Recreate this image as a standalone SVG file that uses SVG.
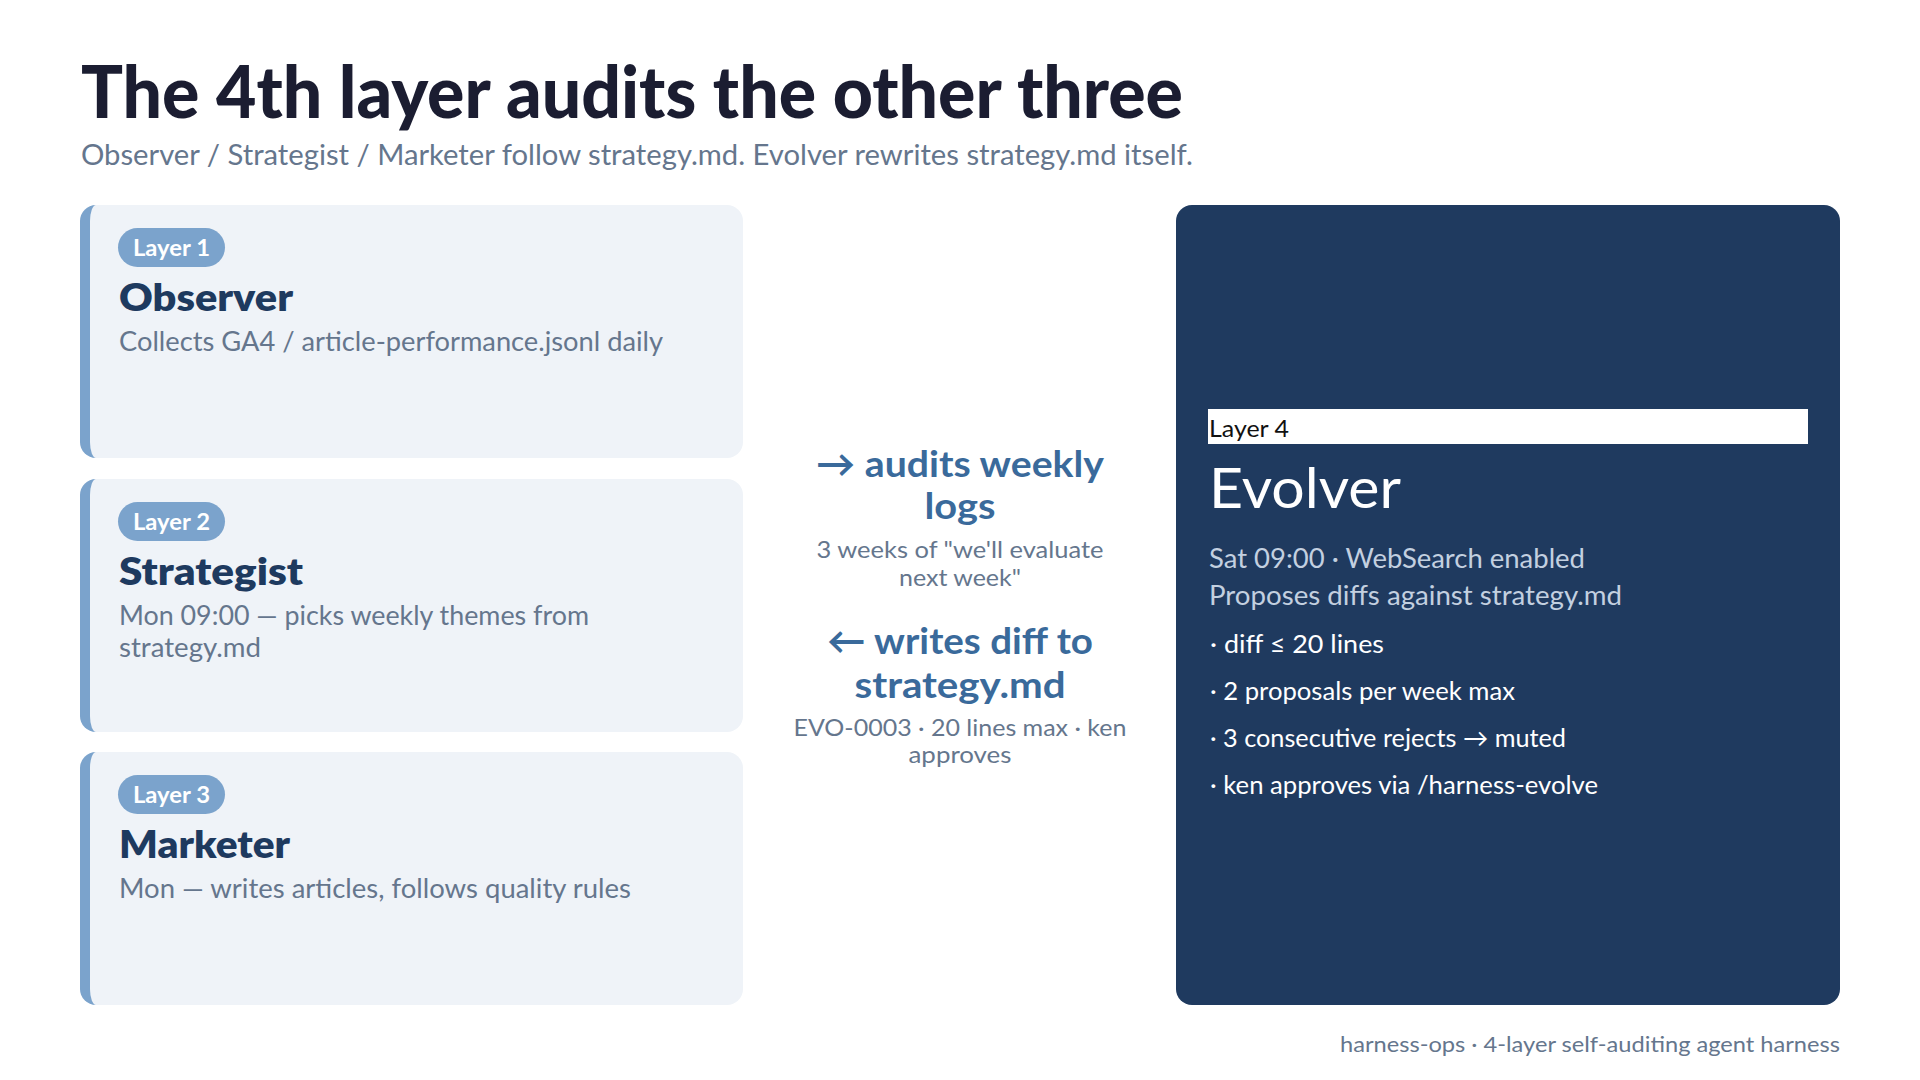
<svg xmlns="http://www.w3.org/2000/svg" width="1920" height="1080" viewBox="0 0 1920 1080">
<defs>
<style>
text { font-family: Lato, "Noto Sans", "Liberation Sans", sans-serif; }
.title { font-size: 72px; font-weight: 900; fill: #1b1d31; }
.sub { font-size: 28px; fill: #65768d; }
.card { fill: #eff3f8; }
.accent { fill: #7ba3cc; }
.pill { fill: #7ba3cc; }
.pilltxt { font-size: 22px; font-weight: 700; fill: #ffffff; text-anchor: middle; }
.name { font-size: 37px; font-weight: 800; fill: #1e3a5f; }
.desc { font-size: 26px; fill: #65768d; }
.dark { fill: #1f3a5f; }
.l4bar { fill: #ffffff; }
.l4txt { font-size: 23px; fill: #111111; }
.evname { font-size: 57px; fill: #ffffff; }
.evsub { font-size: 26px; fill: #c3d0e0; }
.evbul { font-size: 25px; fill: #ffffff; }
.mid { font-size: 37px; font-weight: 700; fill: #3a6a9b; text-anchor: middle; }
.midsub { font-size: 24px; fill: #65768d; text-anchor: middle; }
.foot { font-size: 22px; fill: #65768d; text-anchor: end; }
</style>
</defs>
<rect width="1920" height="1080" fill="#ffffff"/>

<text class="title" x="81" y="118" textLength="1102" lengthAdjust="spacingAndGlyphs">The 4th layer audits the other three</text>
<text class="sub" x="81" y="165" textLength="1112" lengthAdjust="spacingAndGlyphs">Observer / Strategist / Marketer follow strategy.md. Evolver rewrites strategy.md itself.</text>

<g id="layer1">
<rect class="accent" x="80" y="205" width="40" height="253" rx="16"/>
<path class="card" d="M96 205 H727 A16 16 0 0 1 743 221 V442 A16 16 0 0 1 727 458 H96 A6 16 0 0 1 90 442 V221 A6 16 0 0 1 96 205 Z"/>
<rect class="pill" x="118" y="228" width="107" height="39" rx="19.5"/>
<text class="pilltxt" x="171.5" y="256" textLength="77" lengthAdjust="spacingAndGlyphs">Layer 1</text>
<text class="name" x="119" y="311" textLength="174" lengthAdjust="spacingAndGlyphs">Observer</text>
<text class="desc" x="119" y="351" textLength="544" lengthAdjust="spacingAndGlyphs">Collects GA4 / article-performance.jsonl daily</text>
</g>

<g id="layer2">
<rect class="accent" x="80" y="479" width="40" height="253" rx="16"/>
<path class="card" d="M96 479 H727 A16 16 0 0 1 743 495 V716 A16 16 0 0 1 727 732 H96 A6 16 0 0 1 90 716 V495 A6 16 0 0 1 96 479 Z"/>
<rect class="pill" x="118" y="502" width="107" height="39" rx="19.5"/>
<text class="pilltxt" x="171.5" y="530" textLength="77" lengthAdjust="spacingAndGlyphs">Layer 2</text>
<text class="name" x="119" y="585" textLength="184" lengthAdjust="spacingAndGlyphs">Strategist</text>
<text class="desc" x="119" y="625" textLength="470" lengthAdjust="spacingAndGlyphs">Mon 09:00 — picks weekly themes from</text>
<text class="desc" x="119" y="657" textLength="142" lengthAdjust="spacingAndGlyphs">strategy.md</text>
</g>

<g id="layer3">
<rect class="accent" x="80" y="752" width="40" height="253" rx="16"/>
<path class="card" d="M96 752 H727 A16 16 0 0 1 743 768 V989 A16 16 0 0 1 727 1005 H96 A6 16 0 0 1 90 989 V768 A6 16 0 0 1 96 752 Z"/>
<rect class="pill" x="118" y="775" width="107" height="39" rx="19.5"/>
<text class="pilltxt" x="171.5" y="803" textLength="77" lengthAdjust="spacingAndGlyphs">Layer 3</text>
<text class="name" x="119" y="858" textLength="171" lengthAdjust="spacingAndGlyphs">Marketer</text>
<text class="desc" x="119" y="898" textLength="512" lengthAdjust="spacingAndGlyphs">Mon — writes articles, follows quality rules</text>
</g>

<g id="connectors">
<text class="mid" x="960" y="477" textLength="288" lengthAdjust="spacingAndGlyphs">→ audits weekly</text>
<text class="mid" x="960" y="519" textLength="71" lengthAdjust="spacingAndGlyphs">logs</text>
<text class="midsub" x="960" y="558" textLength="287" lengthAdjust="spacingAndGlyphs">3 weeks of "we'll evaluate</text>
<text class="midsub" x="960" y="586" textLength="122" lengthAdjust="spacingAndGlyphs">next week"</text>
<text class="mid" x="960" y="654" textLength="266" lengthAdjust="spacingAndGlyphs">← writes diff to</text>
<text class="mid" x="960" y="698" textLength="211" lengthAdjust="spacingAndGlyphs">strategy.md</text>
<text class="midsub" x="960" y="736" textLength="333" lengthAdjust="spacingAndGlyphs">EVO-0003 · 20 lines max · ken</text>
<text class="midsub" x="960" y="763" textLength="103" lengthAdjust="spacingAndGlyphs">approves</text>
</g>

<g id="layer4">
<rect class="dark" x="1176" y="205" width="664" height="800" rx="16"/>
<rect class="l4bar" x="1208" y="409" width="600" height="35"/>
<text class="l4txt" x="1209" y="437" textLength="80" lengthAdjust="spacingAndGlyphs">Layer 4</text>
<text class="evname" x="1209" y="508" textLength="192" lengthAdjust="spacingAndGlyphs">Evolver</text>
<text class="evsub" x="1209" y="568" textLength="376" lengthAdjust="spacingAndGlyphs">Sat 09:00 · WebSearch enabled</text>
<text class="evsub" x="1209" y="605" textLength="413" lengthAdjust="spacingAndGlyphs">Proposes diffs against strategy.md</text>
<text class="evbul" x="1210" y="653" textLength="174" lengthAdjust="spacingAndGlyphs">· diff ≤ 20 lines</text>
<text class="evbul" x="1210" y="700" textLength="305" lengthAdjust="spacingAndGlyphs">· 2 proposals per week max</text>
<text class="evbul" x="1210" y="747" textLength="356" lengthAdjust="spacingAndGlyphs">· 3 consecutive rejects → muted</text>
<text class="evbul" x="1210" y="794" textLength="388" lengthAdjust="spacingAndGlyphs">· ken approves via /harness-evolve</text>
</g>

<text class="foot" x="1840" y="1052" textLength="500" lengthAdjust="spacingAndGlyphs">harness-ops · 4-layer self-auditing agent harness</text>
</svg>
